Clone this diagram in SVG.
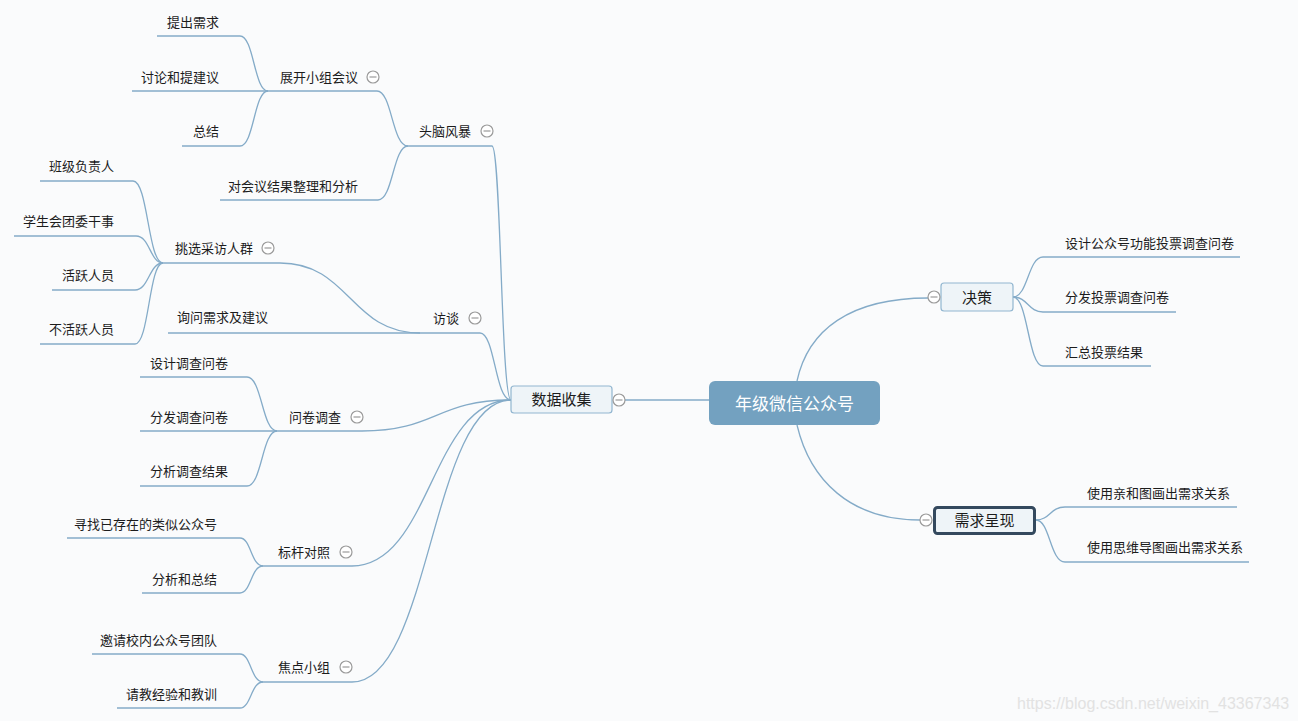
<svg xmlns="http://www.w3.org/2000/svg" width="1298" height="721" viewBox="0 0 1298 721">
<defs>
<style>
.bg{fill:#fafbfc}
.c{fill:none;stroke:#84abc8;stroke-width:1.3}
.u{fill:none;stroke:#84abc8;stroke-width:1.3}
.t{font-family:"Noto Sans CJK SC","Microsoft YaHei",sans-serif;font-size:13px;fill:#1c1c1c}
.l{text-anchor:end}
.m{font-family:"Noto Sans CJK SC",sans-serif;font-size:15px;fill:#1c1c1c;text-anchor:middle}
.box{fill:#eef4f8;stroke:#92b6d0;stroke-width:1.2}
.col circle{fill:#fff;stroke:#9a9a9a;stroke-width:1.2}
.col line{stroke:#9a9a9a;stroke-width:1.2}
</style>
<g id="collapse">
<circle cx="0" cy="0" r="6" style="fill:#fff;stroke:#9a9a9a;stroke-width:1.2"/>
<line x1="-3.5" y1="0" x2="3.5" y2="0" style="stroke:#9a9a9a;stroke-width:1.2"/>
</g>
</defs>
<rect class="bg" x="0" y="0" width="1298" height="721"/>

<g id="connectors">
<path class="c" d="M625,400 L709,400"/>
<path class="c" d="M797,381 C808,330 850,298 928,298"/>
<path class="c" d="M797,425 C810,480 850,520 920,520"/>
<path class="c" d="M511,400 C501,400 501,146 492,146"/>
<path class="c" d="M511,400 C495,400 495,333 480,333"/>
<path class="c" d="M511,400 C436,400 436,431 362,431"/>
<path class="c" d="M511,400 C431,400 431,566 352,566"/>
<path class="c" d="M511,400 C431,400 431,682 352,682"/>
<path class="c" d="M408,146 C392,146 392,91 377,91"/>
<path class="c" d="M408,146 C393,146 393,200 378,200"/>
<path class="c" d="M268,91 C254,91 254,36 240,36"/>
<path class="c" d="M268,91 C254,91 254,146 240,146"/>
<path class="c" d="M420,333 C350,333 350,263 280,263"/>
<path class="c" d="M163,263 C148,263 148,181 133,181"/>
<path class="c" d="M163,263 C150,263 150,236 136,236"/>
<path class="c" d="M163,263 C149,263 149,290 135,290"/>
<path class="c" d="M163,263 C149,263 149,344 135,344"/>
<path class="c" d="M277,431 C262,431 262,377 247,377"/>
<path class="c" d="M277,431 C262,431 262,486 247,486"/>
<path class="c" d="M263,566 C251,566 251,538 240,538"/>
<path class="c" d="M263,566 C251,566 251,593 240,593"/>
<path class="c" d="M263,682 C251,682 251,654 240,654"/>
<path class="c" d="M263,682 C251,682 251,708 240,708"/>
<path class="c" d="M1013,297 C1028,297 1028,257 1043,257"/>
<path class="c" d="M1013,297 C1028,297 1028,312 1043,312"/>
<path class="c" d="M1013,297 C1028,297 1028,366 1043,366"/>
<path class="c" d="M1036,520 C1050,520 1050,507 1065,507"/>
<path class="c" d="M1036,520 C1050,520 1050,562 1065,562"/>
</g>

<g id="root">
<rect x="709" y="381" width="171" height="44" rx="6" fill="#73a1c0"/>
<text x="794.5" y="409.5" style="font-family:'Noto Sans CJK SC',sans-serif;font-size:17px;fill:#ffffff;text-anchor:middle">年级微信公众号</text>
</g>

<g id="n-shujushouji">
<rect class="box" x="511" y="386" width="101" height="27" rx="3"/>
<text class="m" x="561.5" y="405">数据收集</text>
<use href="#collapse" x="619" y="400"/>
</g>

<g id="n-juece">
<rect class="box" x="941" y="283" width="72" height="28" rx="3"/>
<text class="m" x="977" y="302.5">决策</text>
<use href="#collapse" x="934" y="297"/>
</g>

<g id="n-xuqiuchengxian">
<rect x="934.5" y="507.5" width="100" height="26" rx="3" fill="#eef4f8" stroke="#34495e" stroke-width="3"/>
<text class="m" x="984.5" y="525.5">需求呈现</text>
<use href="#collapse" x="926" y="520"/>
</g>

<g id="n-sheji-toupiao"><path class="u" d="M1043,257 H1240"/><text class="t" x="1065" y="248">设计公众号功能投票调查问卷</text></g>
<g id="n-fenfa-toupiao"><path class="u" d="M1043,312 H1176"/><text class="t" x="1065" y="302">分发投票调查问卷</text></g>
<g id="n-huizong"><path class="u" d="M1043,366 H1151"/><text class="t" x="1065" y="357">汇总投票结果</text></g>
<g id="n-qinhetu"><path class="u" d="M1065,507 H1237"/><text class="t" x="1087" y="498">使用亲和图画出需求关系</text></g>
<g id="n-siweidaotu"><path class="u" d="M1065,562 H1249"/><text class="t" x="1087" y="552">使用思维导图画出需求关系</text></g>

<g id="n-naofeng"><path class="u" d="M408,146 H492"/><text class="t l" x="471" y="136">头脑风暴</text><use href="#collapse" x="487" y="131"/></g>
<g id="n-xiaozuhuiyi"><path class="u" d="M268,91 H377"/><text class="t l" x="358" y="82">展开小组会议</text><use href="#collapse" x="373" y="77"/></g>
<g id="n-tichu"><path class="u" d="M157,36 H240"/><text class="t l" x="219" y="27">提出需求</text></g>
<g id="n-taolun"><path class="u" d="M132,91 H268"/><text class="t l" x="219" y="82">讨论和提建议</text></g>
<g id="n-zongjie"><path class="u" d="M182,146 H240"/><text class="t l" x="219" y="136">总结</text></g>
<g id="n-zhengli"><path class="u" d="M220,200 H378"/><text class="t l" x="358" y="191">对会议结果整理和分析</text></g>

<g id="n-fangtan"><path class="u" d="M420,333 H480"/><text class="t l" x="459" y="323">访谈</text><use href="#collapse" x="475" y="318"/></g>
<g id="n-tiaoxuan"><path class="u" d="M163,263 H280"/><text class="t l" x="253" y="253">挑选采访人群</text><use href="#collapse" x="268" y="248"/></g>
<g id="n-xunwen"><path class="u" d="M168,333 H420"/><text class="t" x="177" y="322">询问需求及建议</text></g>
<g id="n-banji"><path class="u" d="M40,181 H133"/><text class="t l" x="114" y="171">班级负责人</text></g>
<g id="n-xueshenghui"><path class="u" d="M14,236 H136"/><text class="t l" x="114" y="226">学生会团委干事</text></g>
<g id="n-huoyue"><path class="u" d="M52,290 H135"/><text class="t l" x="114" y="280">活跃人员</text></g>
<g id="n-buhuoyue"><path class="u" d="M40,344 H135"/><text class="t l" x="114" y="334">不活跃人员</text></g>

<g id="n-wenjuan"><path class="u" d="M277,431 H362"/><text class="t l" x="341" y="422">问卷调查</text><use href="#collapse" x="357" y="417"/></g>
<g id="n-sheji-wenjuan"><path class="u" d="M140,377 H247"/><text class="t l" x="228" y="368">设计调查问卷</text></g>
<g id="n-fenfa-wenjuan"><path class="u" d="M140,431 H277"/><text class="t l" x="228" y="422">分发调查问卷</text></g>
<g id="n-fenxi-wenjuan"><path class="u" d="M140,486 H247"/><text class="t l" x="228" y="476">分析调查结果</text></g>

<g id="n-biaogan"><path class="u" d="M263,566 H352"/><text class="t l" x="330" y="557">标杆对照</text><use href="#collapse" x="346" y="552"/></g>
<g id="n-xunzhao"><path class="u" d="M67,538 H240"/><text class="t l" x="217" y="529">寻找已存在的类似公众号</text></g>
<g id="n-fenxizongjie"><path class="u" d="M142,593 H240"/><text class="t l" x="217" y="584">分析和总结</text></g>

<g id="n-jiaodian"><path class="u" d="M263,682 H352"/><text class="t l" x="330" y="672">焦点小组</text><use href="#collapse" x="346" y="667"/></g>
<g id="n-yaoqing"><path class="u" d="M92,654 H240"/><text class="t l" x="217" y="645">邀请校内公众号团队</text></g>
<g id="n-qingjiao"><path class="u" d="M117,708 H240"/><text class="t l" x="217" y="699">请教经验和教训</text></g>

<text x="1017" y="709" style="font-family:'Liberation Sans',Arial,sans-serif;font-size:16px;fill:#e2e2e2">https://blog.csdn.net/weixin_43367343</text>
</svg>
